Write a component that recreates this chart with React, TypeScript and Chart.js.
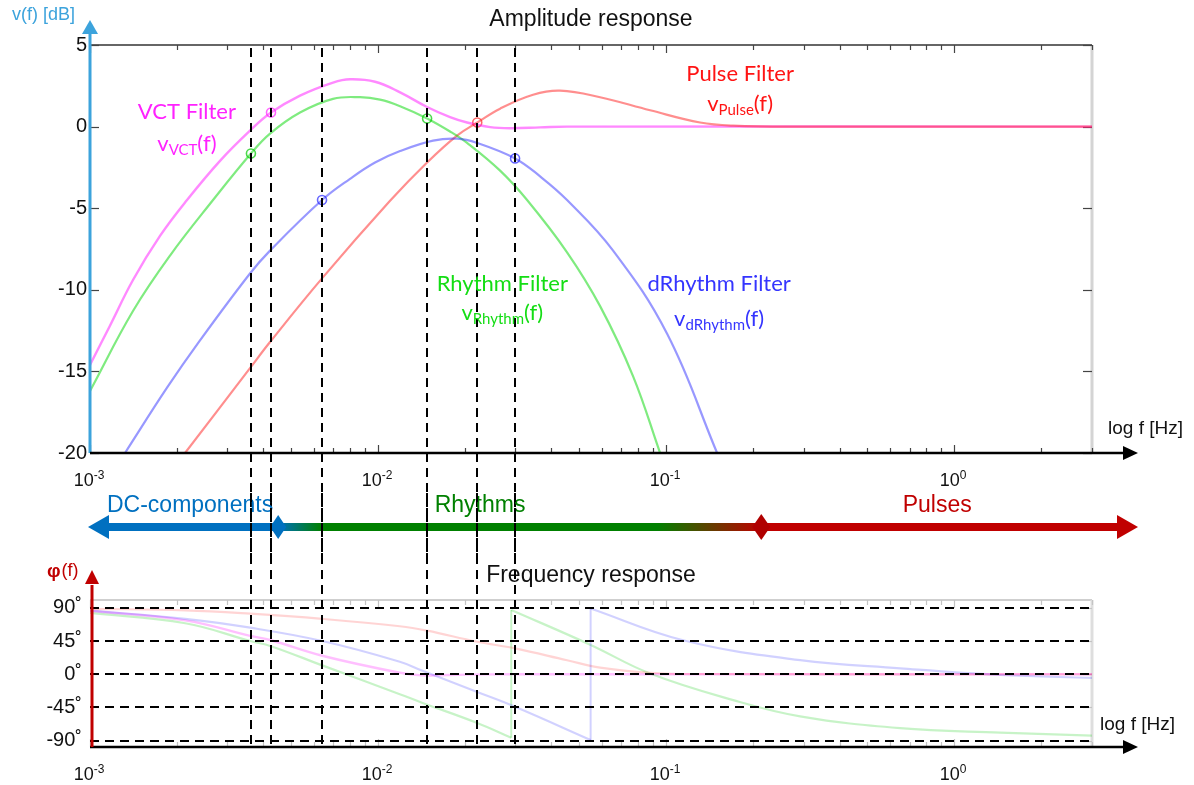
import React, { useEffect, useRef } from "react";
import { Chart, registerables } from "chart.js";

Chart.register(...registerables);

const SANS = "'Liberation Sans', Arial, Helvetica, sans-serif";
const HUMANIST = "Lato, 'Open Sans', 'Noto Sans', sans-serif";

// ---------- shared frequency axis ----------
const F_MIN = 0.001;
const F_MAX = 3.01;
const decadeValues = [0.001, 0.01, 0.1, 1];
const decadeExponents = ["-3", "-2", "-1", "0"];
const xAxisName = "log f [Hz]";

// vertical dashed marker frequencies
const markerFreqs = [0.00362, 0.00425, 0.00639, 0.0148, 0.0221, 0.0299];

// ---------- amplitude response ----------
const ampTitle = "Amplitude response";
const ampAxisName = "v(f) [dB]";
const ampTicks = [5, 0, -5, -10, -15, -20];

const vctFreq = [0.001, 0.001173, 0.00141, 0.00175, 0.002172, 0.002827, 0.003593, 0.00425, 0.005359, 0.006978, 0.007992, 0.009763, 0.011925, 0.0148, 0.01778, 0.02037, 0.02448, 0.028735, 0.036517, 0.045303, 3.01];
const vctDb = [-14.6, -12.2, -9.4, -6.7, -4.5, -2.1, -0.25, 0.86, 1.9, 2.7, 2.9, 2.75, 2.1, 1.2, 0.58, 0.25, -0.03, -0.1, -0.05, 0, 0];

const rhythmFreq = [0.001, 0.00141, 0.001896, 0.002674, 0.00362, 0.004217, 0.005359, 0.006978, 0.00866, 0.01016, 0.011925, 0.0148, 0.01778, 0.02037, 0.026527, 0.032915, 0.045303, 0.058997, 0.076822, 0.095326];
const rhythmDb = [-16.2, -11.3, -7.9, -4.5, -1.65, -0.43, 0.86, 1.7, 1.8, 1.65, 1.25, 0.5, -0.3, -1.0, -2.7, -4.5, -7.7, -11.0, -15.3, -20];

const dRhythmFreq = [0.001323, 0.001851, 0.002409, 0.003593, 0.004217, 0.00639, 0.007992, 0.009763, 0.011925, 0.015524, 0.018796, 0.02207, 0.0299, 0.036517, 0.045303, 0.065463, 0.10081, 0.15033];
const dRhythmDb = [-20, -16, -13.1, -9.0, -7.6, -4.5, -3.2, -2.2, -1.5, -0.86, -0.74, -1.0, -1.95, -3.05, -4.5, -7.6, -12.7, -20];

const pulseFreq = [0.002138, 0.003593, 0.004217, 0.00639, 0.011007, 0.0148, 0.018796, 0.0221, 0.026527, 0.034526, 0.042827, 0.058997, 0.087992, 0.13127, 0.17089, 0.29194, 3.01];
const pulseDb = [-20, -14.8, -13.2, -9.3, -4.55, -2.2, -0.55, 0.25, 1.1, 1.95, 2.2, 1.8, 1.0, 0.25, 0.06, 0, 0];

// circle markers on the curves
const vctMarkFreq = [0.00425];
const vctMarkDb = [0.86];
const rhythmMarkFreq = [0.00362, 0.0148];
const rhythmMarkDb = [-1.65, 0.5];
const dRhythmMarkFreq = [0.00639, 0.0299];
const dRhythmMarkDb = [-4.5, -1.95];
const pulseMarkFreq = [0.0221];
const pulseMarkDb = [0.25];

// curve annotations
const filterNames = ["VCT Filter", "Rhythm Filter", "dRhythm Filter", "Pulse Filter"];
const filterSubs = ["VCT", "Rhythm", "dRhythm", "Pulse"];
const filterLabelFreq = [0.00217, 0.027, 0.1528, 0.1807];
const filterNameDb = [0.92, -9.62, -9.62, 3.25];
const filterFnDb = [-1.04, -11.4, -11.76, 1.41];
const filterTextColors = ["#ff22ff", "#14dd14", "#3535ff", "#ff1414"];

// frequency bands
const bandNames = ["DC-components", "Rhythms", "Pulses"];
const bandNameFreq = [0.002225, 0.0226, 0.873];
const bandColors = ["#0070C0", "#008000", "#C00000"];
const bandDiamondFreq = [0.0045, 0.214];
const bandBlendFreq = [0.00634, 0.0931];

// ---------- phase response ----------
const phaseTitle = "Frequency response";
const phaseTicks = [90, 45, 0, -45, -90];

const vctPhaseFreq = [0.001, 0.00214, 0.0036, 0.00425, 0.0064, 0.0119, 0.0142, 0.02, 0.03, 3.01];
const vctPhaseDeg = [86, 73, 52, 46, 25, 2, -1.5, -0.5, 0, 0];

const pulsePhaseFreq = [0.001, 0.00214, 0.0036, 0.0064, 0.0119, 0.0148, 0.0221, 0.0299, 0.0453, 0.059, 0.088, 0.131, 3.01];
const pulsePhaseDeg = [88.5, 86.5, 82, 75, 65, 59, 44, 35, 19, 9, 2, 0.3, 0];

const dRhythmPhaseFreqA = [0.001, 0.00214, 0.0036, 0.0064, 0.0119, 0.0142, 0.0221, 0.0299, 0.0547];
const dRhythmPhaseDegA = [86, 75, 63, 45, 17, 5, -24, -44, -89];
const dRhythmPhaseFreqB = [0.0547, 0.1146, 0.292, 0.649, 1.444, 3.01];
const dRhythmPhaseDegB = [89, 46, 19, 8, -1, -5];
const dRhythmJumpFreq = [0.0547, 0.0547];
const dRhythmJumpDeg = [-89, 89];

const rhythmPhaseFreqA = [0.001, 0.00214, 0.0036, 0.00425, 0.0064, 0.0119, 0.0142, 0.0221, 0.029];
const rhythmPhaseDegA = [83, 69, 45, 38, 12, -27, -38.5, -66, -86];
const rhythmPhaseFreqB = [0.029, 0.0545, 0.088, 0.171, 0.292, 0.649, 1.444, 3.01];
const rhythmPhaseDegB = [87, 40, 1, -35, -57, -73, -79, -83];
const rhythmJumpFreq = [0.029, 0.029];
const rhythmJumpDeg = [-86, 87];

// ---------- colours ----------
const C_VCT = "rgba(255, 40, 255, 0.55)";
const C_RHY = "rgba(0, 215, 0, 0.5)";
const C_DRH = "rgba(40, 40, 255, 0.48)";
const C_PUL = "rgba(255, 30, 30, 0.5)";
const P_VCT = "rgba(255, 0, 255, 0.25)";
const P_RHY = "rgba(0, 200, 0, 0.22)";
const P_DRH = "rgba(0, 0, 255, 0.18)";
const P_PUL = "rgba(255, 0, 0, 0.17)";

type Pt = { x: number; y: number };
const pts = (fs: number[], vs: number[]): Pt[] => fs.map((f, i) => ({ x: f, y: vs[i] }));

const lineDs = (label: string, fs: number[], vs: number[], color: string, width: number, tension: number = 0.4) => ({
  label,
  data: pts(fs, vs),
  borderColor: color,
  backgroundColor: color,
  borderWidth: width,
  pointRadius: 0,
  cubicInterpolationMode: "default",
  tension,
  fill: false,
});

const markDs = (label: string, fs: number[], vs: number[], color: string) => ({
  label,
  data: pts(fs, vs),
  showLine: false,
  pointRadius: 4.5,
  pointBorderWidth: 1.6,
  pointBorderColor: color,
  pointBackgroundColor: "rgba(0,0,0,0)",
  borderColor: color,
  backgroundColor: "rgba(0,0,0,0)",
});

function seg(ctx: CanvasRenderingContext2D, x1: number, y1: number, x2: number, y2: number) {
  ctx.beginPath();
  ctx.moveTo(x1, y1);
  ctx.lineTo(x2, y2);
  ctx.stroke();
}

function tri(ctx: CanvasRenderingContext2D, p: number[], color: string) {
  ctx.fillStyle = color;
  ctx.beginPath();
  ctx.moveTo(p[0], p[1]);
  ctx.lineTo(p[2], p[3]);
  ctx.lineTo(p[4], p[5]);
  ctx.closePath();
  ctx.fill();
}

function drawSupLabel(ctx: CanvasRenderingContext2D, cx: number, baseY: number, base: string, exp: string) {
  ctx.font = `18px ${SANS}`;
  const wb = ctx.measureText(base).width;
  ctx.font = `12px ${SANS}`;
  const we = ctx.measureText(exp).width;
  const x0 = cx - (wb + we) / 2;
  ctx.fillStyle = "#111";
  ctx.textAlign = "left";
  ctx.textBaseline = "alphabetic";
  ctx.font = `18px ${SANS}`;
  ctx.fillText(base, x0, baseY);
  ctx.font = `12px ${SANS}`;
  ctx.fillText(exp, x0 + wb, baseY - 7);
}

function drawSubLabel(ctx: CanvasRenderingContext2D, cx: number, cy: number, sub: string, color: string) {
  const big = `22px ${HUMANIST}`;
  const small = `15px ${HUMANIST}`;
  ctx.font = big;
  const w1 = ctx.measureText("v").width;
  const w3 = ctx.measureText("(f)").width;
  ctx.font = small;
  const w2 = ctx.measureText(sub).width;
  let x = cx - (w1 + w2 + w3) / 2;
  const base = cy + 7;
  ctx.fillStyle = color;
  ctx.textAlign = "left";
  ctx.textBaseline = "alphabetic";
  ctx.font = big;
  ctx.fillText("v", x, base);
  x += w1;
  ctx.font = small;
  ctx.fillText(sub, x, base + 4);
  x += w2;
  ctx.font = big;
  ctx.fillText("(f)", x, base);
}

function drawFrame(chart: any, o: { top: string; right: string; tick: string; topW: number; yTicks: number[] }) {
  const { ctx, chartArea: a, scales } = chart;
  const x = scales.x;
  const y = scales.y;
  ctx.save();
  ctx.lineWidth = o.topW;
  ctx.strokeStyle = o.top;
  seg(ctx, a.left, a.top, a.right, a.top);
  ctx.lineWidth = 3;
  ctx.strokeStyle = o.right;
  seg(ctx, a.right, a.top, a.right, a.bottom);
  ctx.lineWidth = 1.2;
  ctx.strokeStyle = o.tick;
  for (let d = -3; d <= 0; d++) {
    for (let m = 1; m <= 9; m++) {
      const f = m * Math.pow(10, d);
      if (f > F_MAX * 0.999) break;
      const px = Math.round(x.getPixelForValue(f)) + 0.5;
      const len = m === 1 ? 8 : 5;
      seg(ctx, px, a.top, px, a.top + len);
      seg(ctx, px, a.bottom, px, a.bottom - len);
    }
  }
  for (const v of o.yTicks) {
    const py = Math.round(y.getPixelForValue(v)) + 0.5;
    seg(ctx, a.left, py, a.left + 9, py);
    seg(ctx, a.right, py, a.right - 9, py);
  }
  ctx.restore();
}

function drawVerticalDashes(chart: any, y1: number, y2: number) {
  const { ctx, scales } = chart;
  ctx.save();
  ctx.strokeStyle = "#000";
  ctx.lineWidth = 2;
  ctx.setLineDash([9, 6]);
  for (const f of markerFreqs) {
    const px = Math.round(scales.x.getPixelForValue(f));
    seg(ctx, px, y1, px, y2);
  }
  ctx.restore();
}

function drawXAxis(chart: any, nameLeft: number, nameY: number) {
  const { ctx, chartArea: a, scales } = chart;
  ctx.save();
  ctx.strokeStyle = "#000";
  ctx.lineWidth = 2.5;
  seg(ctx, a.left, a.bottom, a.right + 34, a.bottom);
  tri(ctx, [a.right + 46, a.bottom, a.right + 31, a.bottom - 7, a.right + 31, a.bottom + 7], "#000");
  decadeValues.forEach((v, i) => {
    drawSupLabel(ctx, scales.x.getPixelForValue(v) - 1, a.bottom + 33, "10", decadeExponents[i]);
  });
  ctx.fillStyle = "#111";
  ctx.font = `19px ${SANS}`;
  ctx.textAlign = "left";
  ctx.textBaseline = "middle";
  ctx.fillText(xAxisName, nameLeft, nameY);
  ctx.restore();
}

const ampDecor = {
  id: "ampDecor",
  beforeDatasetsDraw(chart: any) {
    drawFrame(chart, { top: "#666", right: "#d4d4d4", tick: "#444", topW: 2, yTicks: ampTicks });
  },
  afterDatasetsDraw(chart: any) {
    const { ctx, chartArea: a, scales } = chart;
    const x = scales.x;
    const y = scales.y;
    ctx.save();

    // title
    ctx.fillStyle = "#111";
    ctx.font = `23px ${SANS}`;
    ctx.textAlign = "center";
    ctx.textBaseline = "middle";
    ctx.fillText(ampTitle, (a.left + a.right) / 2, a.top - 25);

    // vertical dashed lines (continue down through the band)
    drawVerticalDashes(chart, a.top + 3, chart.height);

    // y axis (blue arrow)
    ctx.strokeStyle = "#3ca3dc";
    ctx.lineWidth = 3;
    seg(ctx, a.left, a.bottom, a.left, a.top - 14);
    tri(ctx, [a.left, a.top - 25, a.left - 8, a.top - 11, a.left + 8, a.top - 11], "#3ca3dc");
    ctx.fillStyle = "#3ca3dc";
    ctx.font = `18px ${SANS}`;
    ctx.textAlign = "left";
    ctx.textBaseline = "middle";
    ctx.fillText(ampAxisName, 12, a.top - 30);

    // x axis
    drawXAxis(chart, a.right + 16, a.bottom - 24);

    // filter annotations
    filterNames.forEach((name, i) => {
      const px = x.getPixelForValue(filterLabelFreq[i]);
      ctx.fillStyle = filterTextColors[i];
      ctx.font = `22px ${HUMANIST}`;
      ctx.textAlign = "center";
      ctx.textBaseline = "middle";
      ctx.fillText(name, px, y.getPixelForValue(filterNameDb[i]));
      drawSubLabel(ctx, px, y.getPixelForValue(filterFnDb[i]), filterSubs[i], filterTextColors[i]);
    });

    // frequency band arrow
    const by = a.bottom + 74;
    const xl = a.left - 2;
    const xr = a.right + 46;
    const d1 = x.getPixelForValue(bandDiamondFreq[0]);
    const d2 = x.getPixelForValue(bandDiamondFreq[1]);
    const b1 = x.getPixelForValue(bandBlendFreq[0]);
    const b2 = x.getPixelForValue(bandBlendFreq[1]);
    const span = xr - xl;
    const g = ctx.createLinearGradient(xl, 0, xr, 0);
    g.addColorStop(0, bandColors[0]);
    g.addColorStop((d1 - xl) / span, bandColors[0]);
    g.addColorStop((b1 - xl) / span, bandColors[1]);
    g.addColorStop((b2 - xl) / span, bandColors[1]);
    g.addColorStop((d2 - xl) / span, bandColors[2]);
    g.addColorStop(1, bandColors[2]);
    ctx.strokeStyle = g;
    ctx.lineWidth = 8;
    seg(ctx, xl + 16, by, xr - 16, by);
    tri(ctx, [xl, by, xl + 21, by - 12, xl + 21, by + 12], bandColors[0]);
    tri(ctx, [xr, by, xr - 21, by - 12, xr - 21, by + 12], bandColors[2]);
    // diamonds
    ctx.fillStyle = bandColors[0];
    ctx.beginPath();
    ctx.moveTo(d1, by - 12);
    ctx.lineTo(d1 + 8, by);
    ctx.lineTo(d1, by + 12);
    ctx.lineTo(d1 - 8, by);
    ctx.closePath();
    ctx.fill();
    ctx.fillStyle = "#b00000";
    ctx.beginPath();
    ctx.moveTo(d2, by - 13);
    ctx.lineTo(d2 + 9, by);
    ctx.lineTo(d2, by + 13);
    ctx.lineTo(d2 - 9, by);
    ctx.closePath();
    ctx.fill();
    // band labels
    ctx.font = `23px ${SANS}`;
    ctx.textAlign = "center";
    ctx.textBaseline = "middle";
    bandNames.forEach((n, i) => {
      ctx.fillStyle = bandColors[i];
      ctx.fillText(n, x.getPixelForValue(bandNameFreq[i]), by - 21);
    });

    // redraw dashes in band region on top of the band
    drawVerticalDashes(chart, a.bottom + 40, chart.height);
    ctx.restore();
  },
};

const phaseDecor = {
  id: "phaseDecor",
  beforeDatasetsDraw(chart: any) {
    drawFrame(chart, { top: "#cfcfcf", right: "#dedede", tick: "#c4c4c4", topW: 2, yTicks: phaseTicks });
  },
  afterDatasetsDraw(chart: any) {
    const { ctx, chartArea: a, scales } = chart;
    const y = scales.y;
    ctx.save();
    // title
    ctx.fillStyle = "#111";
    ctx.font = `23px ${SANS}`;
    ctx.textAlign = "center";
    ctx.textBaseline = "middle";
    ctx.fillText(phaseTitle, (a.left + a.right) / 2, a.top - 24);

    // horizontal dashed grid
    ctx.strokeStyle = "#000";
    ctx.lineWidth = 2;
    ctx.setLineDash([9, 6]);
    for (const v of phaseTicks) {
      const py = Math.round(y.getPixelForValue(v));
      seg(ctx, a.left, py, a.right, py);
    }
    ctx.setLineDash([]);

    drawVerticalDashes(chart, 0, a.bottom + 3);

    // x axis
    drawXAxis(chart, a.right + 8, a.bottom - 22);

    // y axis (red arrow)
    const ax = a.left + 2;
    ctx.strokeStyle = "#C00000";
    ctx.lineWidth = 3;
    seg(ctx, ax, a.bottom, ax, a.top - 15);
    tri(ctx, [ax, a.top - 30, ax - 7, a.top - 16, ax + 7, a.top - 16], "#C00000");
    ctx.fillStyle = "#C00000";
    ctx.textAlign = "left";
    ctx.textBaseline = "middle";
    ctx.font = `bold 19px ${SANS}`;
    const wphi = ctx.measureText("φ").width;
    ctx.fillText("φ", 47, a.top - 28);
    ctx.font = `18px ${SANS}`;
    ctx.fillText("(f)", 47 + wphi + 1, a.top - 29);
    ctx.restore();
  },
};

function AmplitudeChart() {
  const ref = useRef<HTMLCanvasElement>(null);
  useEffect(() => {
    if (!ref.current) return;
    const chart = new Chart(ref.current, {
      type: "line",
      data: {
        datasets: [
          lineDs("dRhythm", dRhythmFreq, dRhythmDb, C_DRH, 2.2),
          lineDs("Rhythm", rhythmFreq, rhythmDb, C_RHY, 2.2),
          lineDs("Pulse", pulseFreq, pulseDb, C_PUL, 2.2),
          lineDs("VCT", vctFreq, vctDb, C_VCT, 2.4),
          markDs("VCT marks", vctMarkFreq, vctMarkDb, "rgba(255,60,255,0.8)"),
          markDs("Rhythm marks", rhythmMarkFreq, rhythmMarkDb, "rgba(0,200,0,0.7)"),
          markDs("dRhythm marks", dRhythmMarkFreq, dRhythmMarkDb, "rgba(40,40,255,0.7)"),
          markDs("Pulse marks", pulseMarkFreq, pulseMarkDb, "rgba(255,40,40,0.7)"),
        ] as any,
      },
      options: {
        responsive: false,
        animation: false,
        events: [],
        layout: { padding: { left: 8, right: 102, top: 45, bottom: 102 } },
        plugins: { legend: { display: false }, tooltip: { enabled: false }, title: { display: false } },
        scales: {
          x: { type: "logarithmic", min: F_MIN, max: F_MAX, display: false },
          y: {
            type: "linear",
            min: -20,
            max: 5,
            afterBuildTicks: (s: any) => {
              s.ticks = ampTicks.map((v) => ({ value: v }));
            },
            afterFit: (s: any) => {
              s.width = 82;
            },
            grid: { display: false, drawTicks: false },
            border: { display: false },
            ticks: { font: { family: SANS, size: 20 }, color: "#111", padding: 3 },
          },
        },
      } as any,
      plugins: [ampDecor],
    });
    return () => chart.destroy();
  }, []);
  return <canvas ref={ref} width={1194} height={555} style={{ position: "absolute", left: 0, top: 0, width: 1194, height: 555 }} />;
}

function PhaseChart() {
  const ref = useRef<HTMLCanvasElement>(null);
  useEffect(() => {
    if (!ref.current) return;
    const chart = new Chart(ref.current, {
      type: "line",
      data: {
        datasets: [
          lineDs("Pulse phase", pulsePhaseFreq, pulsePhaseDeg, P_PUL, 2.2),
          lineDs("dRhythm phase A", dRhythmPhaseFreqA, dRhythmPhaseDegA, P_DRH, 2.2),
          lineDs("dRhythm phase B", dRhythmPhaseFreqB, dRhythmPhaseDegB, P_DRH, 2.2),
          lineDs("dRhythm jump", dRhythmJumpFreq, dRhythmJumpDeg, P_DRH, 2, 0),
          lineDs("Rhythm phase A", rhythmPhaseFreqA, rhythmPhaseDegA, P_RHY, 2.2),
          lineDs("Rhythm phase B", rhythmPhaseFreqB, rhythmPhaseDegB, P_RHY, 2.2),
          lineDs("Rhythm jump", rhythmJumpFreq, rhythmJumpDeg, P_RHY, 2, 0),
          lineDs("VCT phase", vctPhaseFreq, vctPhaseDeg, P_VCT, 2.4),
        ] as any,
      },
      options: {
        responsive: false,
        animation: false,
        events: [],
        layout: { padding: { left: 8, right: 102, top: 45, bottom: 38 } },
        plugins: { legend: { display: false }, tooltip: { enabled: false }, title: { display: false } },
        scales: {
          x: { type: "logarithmic", min: F_MIN, max: F_MAX, display: false },
          y: {
            type: "linear",
            min: -98.5,
            max: 100.5,
            afterBuildTicks: (s: any) => {
              s.ticks = phaseTicks.map((v) => ({ value: v }));
            },
            afterFit: (s: any) => {
              s.width = 82;
            },
            grid: { display: false, drawTicks: false },
            border: { display: false },
            ticks: {
              font: { family: SANS, size: 20 },
              color: "#111",
              padding: 8,
              callback: (v: any) => `${v}˚`,
            },
          },
        },
      } as any,
      plugins: [phaseDecor],
    });
    return () => chart.destroy();
  }, []);
  return <canvas ref={ref} width={1194} height={230} style={{ position: "absolute", left: 0, top: 555, width: 1194, height: 230 }} />;
}

export default function App() {
  return (
    <div style={{ position: "absolute", left: 0, top: 0, width: 1194, height: 785, background: "#fff", overflow: "hidden" }}>
      <AmplitudeChart />
      <PhaseChart />
    </div>
  );
}
